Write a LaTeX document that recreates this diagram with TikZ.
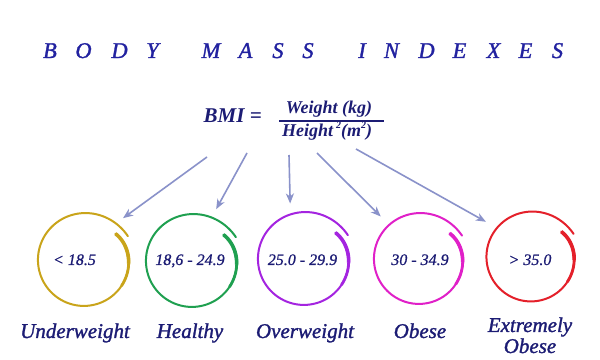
\documentclass[tikz,border=0pt]{standalone}
\usepackage{fontspec}
\setmainfont{Liberation Serif}
\newfontfamily\heavyserif[FakeBold=1.3]{Liberation Serif}
\newfontfamily\midserif[FakeBold=0.8]{Liberation Serif}
\usetikzlibrary{arrows.meta}
\definecolor{titleblue}{HTML}{2222A0}
\definecolor{navy}{HTML}{1C1C74}
\definecolor{arrowc}{HTML}{8A92CA}
\definecolor{cyellow}{HTML}{C9A41A}
\definecolor{cgreen}{HTML}{1FA050}
\definecolor{cpurple}{HTML}{A424E0}
\definecolor{cmagenta}{HTML}{E020C8}
\definecolor{cred}{HTML}{E4202A}
\newcommand{\ringdraw}[3]{% node, colour, radius
  \begin{scope}[shift={(#1.center)}]
    \draw[#2, line width=2pt, line cap=round] plot[smooth, samples=120, domain=0:1, variable=\p]
      ({(#3-5*exp(-12*\p)+4*\p^8)*cos(40-372*\p)}, {(#3-5*exp(-12*\p)+4*\p^8)*sin(40-372*\p)});
    \draw[#2, line width=3.6pt] plot[smooth, samples=20, domain=0:0.12, variable=\p]
      ({(#3-5*exp(-12*\p))*cos(40-372*\p)}, {(#3-5*exp(-12*\p))*sin(40-372*\p)});
    \draw[#2, line width=2.8pt, line cap=round] plot[smooth, samples=20, domain=0.05:0.2, variable=\p]
      ({(#3-5*exp(-12*\p))*cos(40-372*\p)}, {(#3-5*exp(-12*\p))*sin(40-372*\p)});
  \end{scope}}
\begin{document}
\begin{tikzpicture}[x=1pt, y=1pt,
  ttl/.style={inner sep=0pt, anchor=base, text=titleblue, font=\fontsize{22.5}{27}\selectfont\heavyserif\itshape},
  frm/.style={inner sep=0pt, anchor=base, text=navy, font=\fontsize{18}{21}\selectfont\bfseries\itshape},
  rng/.style={inner sep=0pt, anchor=base, text=navy, font=\fontsize{16}{19}\selectfont\midserif\itshape},
  lbl/.style={inner sep=0pt, anchor=base, text=navy, align=center, font=\fontsize{21}{21}\selectfont\heavyserif\itshape},
  ring/.style={circle, minimum size=114pt, inner sep=0pt, draw=none},
  arr/.style={arrowc, line width=1.6pt, -{Stealth[length=10pt, width=8pt, inset=3pt]}}]
\fill[white] (0,0) rectangle (600,359);
\useasboundingbox (0,0) rectangle (600,359);
% title
\foreach \c/\x [count=\i] in {B/50, O/83.5, D/119.5, Y/152.5, M/211, A/245.5, S/278, S/308, I/362, N/391.5, D/426.5, E/459.5, X/493.5, E/525.5, S/557.5}
  \node[ttl] (t\i) at (\x,301) {\c};
% formula
\node[frm, anchor=base east, font=\fontsize{21}{24}\selectfont\bfseries\itshape] (bmi) at (262,236) {BMI =};
\node[frm] (num) at (329,245) {Weight (kg)};
\node[frm, anchor=base west] (den) at (282,222) {Height\,\raisebox{0.45em}{\fontsize{10}{12}\selectfont 2}(m\raisebox{0.45em}{\fontsize{10}{12}\selectfont 2})};
\draw[navy, line width=2pt] (279,238) -- (384,238);
% rings
\node[ring] (c1) at (84,99) {};
\node[ring] (c2) at (192,98) {};
\node[ring] (c3) at (304,100) {};
\node[ring] (c4) at (419,100) {};
\node[ring] (c5) at (531,102) {};
\ringdraw{c1}{cyellow}{46}
\ringdraw{c2}{cgreen}{46}
\ringdraw{c3}{cpurple}{46}
\ringdraw{c4}{cmagenta}{45}
\ringdraw{c5}{cred}{44.5}
% ranges
\node[rng] (r1) at (74.5,94) {< 18.5};
\node[rng] (r2) at (190,94) {18,6 - 24.9};
\node[rng] (r3) at (302.5,94) {25.0 - 29.9};
\node[rng] (r4) at (420,94) {30 - 34.9};
\node[rng] (r5) at (530,94) {> 35.0};
% labels
\node[lbl] (l1) at (75,21) {Underweight};
\node[lbl] (l2) at (190,21) {Healthy};
\node[lbl] (l3) at (305,21) {Overweight};
\node[lbl] (l4) at (420,21) {Obese};
\node[lbl] (l5) at (530,6) {Extremely\\Obese};
% arrows
\coordinate (s1) at (207,202);
\coordinate (s2) at (247,206);
\coordinate (s3) at (289,204);
\coordinate (s4) at (317,206);
\coordinate (s5) at (356,210);
\draw[arr] (s1) -- (c1.47);
\draw[arr] (s2) -- (c2.65);
\draw[arr] (s3) -- (c3.104);
\draw[arr] (s4) -- (c4.132);
\draw[arr] (s5) -- (c5.142);
\end{tikzpicture}
\end{document}
